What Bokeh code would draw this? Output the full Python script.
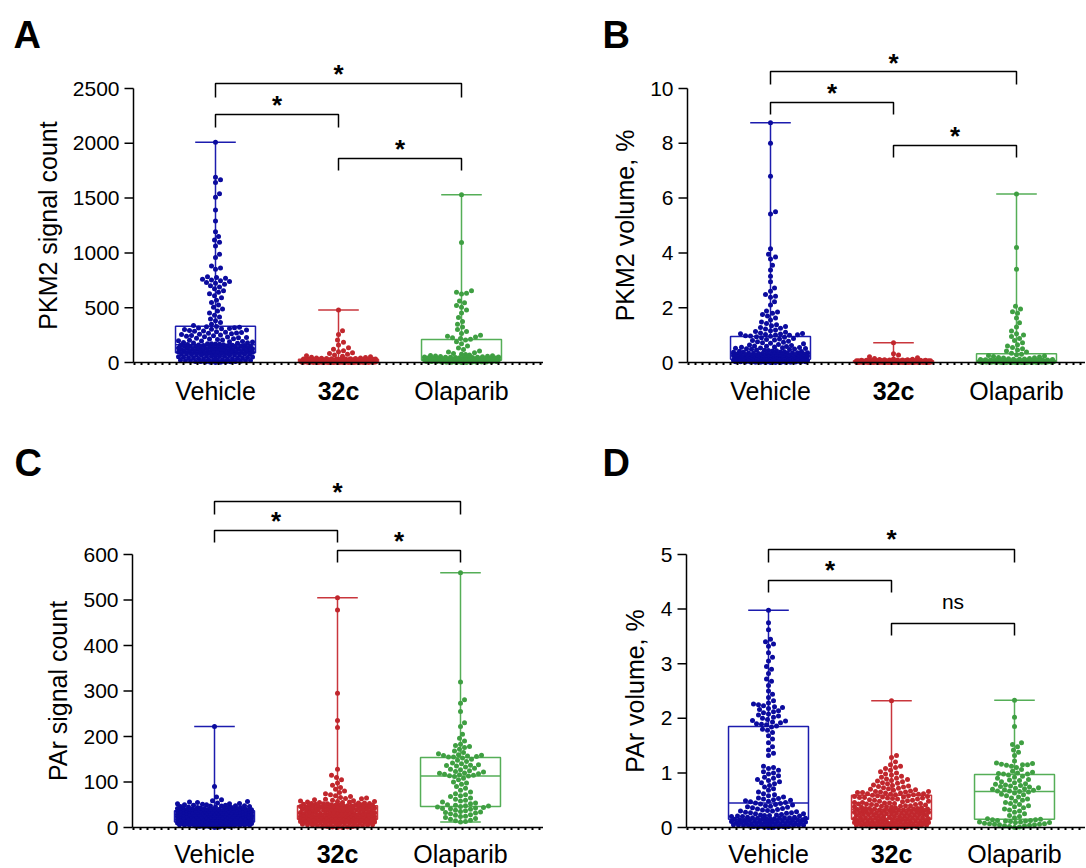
import numpy as np
from bokeh.plotting import figure
from bokeh.models import Range1d, ColumnDataSource
from bokeh.core.properties import value
from bokeh.layouts import row, column
from bokeh.embed import file_html
from bokeh.resources import INLINE

categories = ["Vehicle", "32c", "Olaparib"]

# ---------------- Panel A: PKM2 signal count ----------------
pkm2_count_vehicle = [
    2010, 1690, 1668, 1642, 1540, 1508, 1392, 1290, 1192, 1150, 1118, 1098, 1062, 988, 958, 880, 862, 850,
    782, 775, 768, 760, 752, 745, 738, 730, 722, 715, 700, 688, 672, 655, 640, 628, 610, 590, 568, 548,
    525, 505, 488, 470, 452, 432, 415, 398, 380, 365, 350, 338,
    329, 326, 322, 318, 315, 311, 307, 303, 300, 296, 292, 288, 285, 281, 277, 273, 270, 266, 262, 258,
    255, 251, 247, 243, 240, 236, 232, 228, 225, 221, 217, 214, 210, 206, 203, 199, 196, 192, 189, 186,
    183, 180, 177, 175, 172, 170, 168, 166, 164, 162,
    160, 158, 157, 155, 154, 152, 151, 149, 148, 146, 145, 143, 142, 140, 139, 137, 136, 134, 133, 131,
    130, 128, 127, 125, 124, 122, 121, 119, 118, 116, 115, 113, 112, 110, 109, 107, 106, 104, 103, 101,
    100, 98, 97, 95, 94, 93, 92, 91, 90, 89,
    87, 85, 84, 82, 80, 78, 77, 75, 73, 71, 70, 68, 66, 64, 62, 60, 58, 56, 54, 52, 50, 48, 46, 44, 42,
    40, 38, 36, 34, 32, 30, 28, 26, 24, 22, 20, 18, 17, 15, 13, 12, 10, 9, 8, 6, 5, 4, 3, 2, 0]
pkm2_count_32c = [
    480, 290, 255, 205, 185, 160, 135, 120, 108, 98, 90, 82, 75, 68, 62, 57, 52, 48, 45, 42, 40, 38, 37,
    36, 35, 34, 33, 32, 31, 31,
    30, 29, 29, 28, 28, 27, 27, 26, 26, 25, 25, 24, 24, 23, 23, 22, 22, 21, 21, 20, 20, 19, 19, 18, 18,
    17, 17, 16, 16, 15,
    15, 14, 14, 14, 13, 13, 12, 12, 12, 11, 11, 10, 10, 10, 9, 9, 9, 8, 8, 8, 7, 7, 7, 6, 6, 6, 6, 5, 5, 5,
    4, 4, 4, 4, 4, 3, 3, 3, 3, 3, 3, 2, 2, 2, 2, 2, 2, 1, 1, 1, 1, 1, 1, 1, 0, 0, 0, 0, 0, 0]
pkm2_count_olaparib = [
    1530, 1095, 655, 640, 632, 625, 560, 545, 520, 505, 478, 452, 410, 375, 350, 325, 300, 282, 265, 248,
    240, 232, 225, 218, 212,
    205, 190, 170, 150, 132, 118, 104, 95, 88, 82, 76, 72, 68, 65, 62, 59, 57, 55, 53, 51, 50, 49, 48, 47, 46,
    45, 44, 43, 42, 41, 40, 39, 38, 37, 36, 35, 34, 33, 32, 31, 30, 29, 28, 27, 26, 25, 24, 23, 22, 21,
    20, 19, 18, 17, 16, 15, 14, 13, 12, 11, 10, 9, 8, 7, 6, 5, 5, 4, 3, 3, 2, 2, 1, 1, 0]
pkm2_count_q1 = [88, 5, 20]
pkm2_count_median = [161, 15, 45]
pkm2_count_q3 = [331, 30, 210]
pkm2_count_min = [0, 0, 0]
pkm2_count_max = [2010, 480, 1530]

# ---------------- Panel B: PKM2 volume, % ----------------
pkm2_volume_vehicle = [
    8.75, 8.0, 6.8, 5.5, 5.42, 4.15, 3.95, 3.85, 3.78, 3.55, 3.38, 3.15, 2.95, 2.72, 2.6, 2.48, 2.42, 2.38,
    2.22, 2.1, 1.88, 1.84, 1.8, 1.75, 1.7, 1.62, 1.55, 1.48, 1.42, 1.38, 1.34, 1.31, 1.28, 1.25, 1.22,
    1.19, 1.16, 1.13, 1.1, 1.08, 1.06, 1.05, 1.04, 1.02, 1.01, 1.0, 0.99, 0.98, 0.97, 0.96,
    0.94, 0.92, 0.9, 0.88, 0.86, 0.84, 0.82, 0.8, 0.78, 0.76, 0.74, 0.72, 0.7, 0.68, 0.66, 0.64, 0.62,
    0.6, 0.59, 0.58, 0.57, 0.56, 0.55, 0.54, 0.53, 0.52, 0.51, 0.5, 0.49, 0.48, 0.47, 0.46, 0.45, 0.44,
    0.43, 0.42, 0.41, 0.4, 0.39, 0.38, 0.37, 0.37, 0.36, 0.36, 0.35, 0.35, 0.34, 0.34, 0.33, 0.33,
    0.32, 0.31, 0.31, 0.3, 0.3, 0.29, 0.29, 0.28, 0.28, 0.27, 0.27, 0.26, 0.26, 0.25, 0.25, 0.24, 0.24,
    0.23, 0.23, 0.22, 0.22, 0.21, 0.21, 0.2, 0.2, 0.19, 0.19, 0.18, 0.18, 0.18, 0.17, 0.17, 0.17, 0.16,
    0.16, 0.16, 0.15, 0.15, 0.15, 0.14, 0.14, 0.14, 0.13, 0.13, 0.13, 0.13, 0.12, 0.12, 0.12, 0.12,
    0.11, 0.11, 0.11, 0.11, 0.11, 0.1, 0.1, 0.1, 0.1, 0.1, 0.09, 0.09, 0.09, 0.09, 0.08, 0.08, 0.08, 0.08,
    0.07, 0.07, 0.07, 0.07, 0.06, 0.06, 0.06, 0.06, 0.05, 0.05, 0.05, 0.05, 0.04, 0.04, 0.04, 0.04,
    0.03, 0.03, 0.03, 0.03, 0.02, 0.02, 0.02, 0.02, 0.01, 0.01, 0.01, 0.01, 0.0, 0.0, 0.0, 0.0]
pkm2_volume_32c = [
    0.72, 0.32, 0.27, 0.21, 0.17, 0.15, 0.13, 0.12, 0.11, 0.1, 0.1, 0.09, 0.09, 0.09, 0.08, 0.08, 0.08,
    0.08, 0.07, 0.07, 0.07, 0.07, 0.07, 0.07, 0.065, 0.065, 0.065, 0.06, 0.06, 0.06,
    0.06, 0.058, 0.056, 0.055, 0.054, 0.052, 0.05, 0.05, 0.048, 0.047, 0.046, 0.045, 0.044, 0.043, 0.042,
    0.041, 0.04, 0.04, 0.039, 0.038, 0.037, 0.036, 0.035, 0.035, 0.034, 0.033, 0.032, 0.031, 0.031, 0.03,
    0.03, 0.029, 0.028, 0.028, 0.027, 0.026, 0.025, 0.024, 0.024, 0.023, 0.022, 0.021, 0.02, 0.02, 0.019,
    0.018, 0.018, 0.017, 0.016, 0.015, 0.015, 0.014, 0.013, 0.013, 0.012, 0.012, 0.011, 0.011, 0.01, 0.01,
    0.009, 0.009, 0.009, 0.008, 0.008, 0.008, 0.007, 0.007, 0.007, 0.006, 0.006, 0.006, 0.005, 0.005,
    0.005, 0.004, 0.004, 0.004, 0.003, 0.003, 0.003, 0.002, 0.002, 0.002, 0.001, 0.001, 0.001, 0.0, 0.0, 0.0]
pkm2_volume_olaparib = [
    6.15, 4.2, 3.4, 2.05, 1.95, 1.85, 1.8, 1.62, 1.45, 1.3, 1.15, 1.05, 1.0, 0.95, 0.88, 0.8, 0.72, 0.65,
    0.6, 0.55, 0.5, 0.46, 0.42, 0.38, 0.34,
    0.3, 0.28, 0.26, 0.24, 0.22, 0.2, 0.18, 0.17, 0.16, 0.15, 0.14, 0.13, 0.12, 0.115, 0.11, 0.105, 0.1,
    0.095, 0.09, 0.088, 0.085, 0.082, 0.078, 0.075, 0.072,
    0.07, 0.068, 0.066, 0.064, 0.062, 0.06, 0.058, 0.056, 0.054, 0.052, 0.05, 0.048, 0.046, 0.044, 0.042,
    0.04, 0.038, 0.036, 0.034, 0.032, 0.03, 0.028, 0.026, 0.024, 0.022,
    0.02, 0.019, 0.018, 0.017, 0.016, 0.015, 0.014, 0.013, 0.012, 0.011, 0.01, 0.009, 0.008, 0.007,
    0.006, 0.005, 0.005, 0.004, 0.003, 0.003, 0.002, 0.002, 0.001, 0.001, 0.0]
pkm2_volume_q1 = [0.12, 0.01, 0.02]
pkm2_volume_median = [0.32, 0.03, 0.07]
pkm2_volume_q3 = [0.95, 0.06, 0.32]
pkm2_volume_min = [0, 0, 0]
pkm2_volume_max = [8.75, 0.72, 6.15]

# ---------------- Panel C: PAr signal count ----------------
par_count_vehicle = [
    222, 90, 67, 61, 59, 57, 56, 55, 54, 53, 52, 52, 51, 50, 50, 49, 49, 48, 48, 47, 47, 46, 46, 45, 45,
    44, 44, 44, 43, 43, 42, 42, 42, 41, 41, 41, 40, 40, 40, 40, 39, 39, 39, 39, 38, 38, 38, 38, 38, 37,
    37, 37, 36, 36, 36, 36, 35, 35, 35, 35, 34, 34, 34, 34, 33, 33, 33, 33, 32, 32, 32, 32, 31, 31, 31,
    31, 30, 30, 30, 30, 29, 29, 29, 29, 28, 28, 28, 28, 27, 27, 27, 27, 27, 26, 26, 26, 26, 25, 25, 25,
    25, 24, 24, 24, 24, 23, 23, 23, 23, 22, 22, 22, 22, 21, 21, 21, 21, 20, 20, 20, 20, 19, 19, 19, 19,
    18, 18, 18, 18, 17, 17, 17, 17, 16, 16, 16, 16, 15, 15, 15, 15, 14, 14, 14, 14, 13, 13, 13, 13, 12,
    11, 11, 11, 11, 11, 10, 10, 10, 10, 10, 9, 9, 9, 9, 9, 8, 8, 8, 8, 8, 7, 7, 7, 7, 7, 6, 6, 6, 6,
    5, 5, 5, 5, 4, 4, 4, 3, 3, 3, 2, 2, 1, 0]
par_count_32c = [
    505, 478, 295, 235, 220, 128, 115, 110, 105, 98, 93, 88, 84, 80, 77, 74, 72, 70, 68, 66, 65, 64, 63,
    62, 61, 60, 59, 58, 57, 57, 56, 56, 55, 55, 54, 54, 53, 53, 52, 52, 51, 51, 50, 50, 50, 49, 49, 49,
    48, 48,
    48, 47, 47, 47, 46, 46, 46, 45, 45, 45, 44, 44, 44, 43, 43, 43, 42, 42, 42, 41, 41, 41, 40, 40, 40,
    39, 39, 39, 38, 38, 37, 37, 37, 36, 36, 35, 35, 35, 34, 34, 33, 33, 33, 32, 32, 31, 31, 31, 30, 30,
    30, 29, 29, 29, 28, 28, 28, 27, 27, 27, 26, 26, 26, 25, 25, 25, 25, 24, 24, 24, 24, 23, 23, 23, 23,
    22, 22, 22, 22, 22, 21, 21, 21, 21, 21, 20, 20, 20, 20, 20, 20, 19, 19, 19, 19, 19, 18, 18, 18, 18,
    17, 17, 17, 17, 16, 16, 16, 16, 15, 15, 15, 15, 14, 14, 14, 14, 13, 13, 13, 12, 12, 12, 11, 11, 11,
    10, 10, 10, 9, 9, 9, 8, 8, 8, 7, 7, 6, 6, 5, 5, 4, 4, 3, 3, 2, 2, 1, 1, 0, 0]
par_count_olaparib = [
    560, 320, 281, 273, 255, 230, 222, 205, 196, 190, 183, 180, 178, 176, 172, 168, 165, 162, 160, 159,
    158, 157, 156, 155, 155,
    153, 150, 148, 145, 142, 140, 138, 137, 136, 135, 133, 130, 128, 127, 125, 123, 122, 120, 119, 118,
    117, 116, 115, 114, 113,
    112, 108, 105, 100, 98, 95, 90, 86, 82, 78, 74, 72, 70, 68, 65, 62, 60, 58, 56, 54, 52, 50, 49, 48, 47,
    46, 45, 44, 43, 42, 41, 40, 38, 37, 35, 34, 33, 32, 30, 28, 27, 25, 24, 22, 20, 18, 16, 15, 13, 12]
par_count_q1 = [12, 18, 46]
par_count_median = [25, 30, 113]
par_count_q3 = [37, 48, 154]
par_count_min = [0, 0, 12]
par_count_max = [222, 505, 560]

# ---------------- Panel D: PAr volume, % ----------------
par_volume_vehicle = [
    3.98, 3.75, 3.62, 3.45, 3.4, 3.36, 3.32, 3.2, 3.12, 3.05, 2.95, 2.9, 2.82, 2.72, 2.68, 2.6, 2.5, 2.44,
    2.38, 2.32, 2.28, 2.26, 2.25, 2.23, 2.21, 2.2, 2.18, 2.16, 2.14, 2.12, 2.1, 2.08, 2.06, 2.04, 2.02,
    2.0, 1.98, 1.96, 1.95, 1.93, 1.92, 1.9, 1.89, 1.88, 1.86,
    1.84, 1.8, 1.78, 1.74, 1.68, 1.62, 1.55, 1.48, 1.42, 1.36, 1.32, 1.12, 1.1, 1.08, 1.05, 1.02, 1.0,
    0.98, 0.95, 0.92, 0.9, 0.88, 0.86, 0.84, 0.82, 0.8, 0.77, 0.74, 0.71, 0.68, 0.65, 0.62, 0.6, 0.58,
    0.56, 0.54, 0.53, 0.52, 0.51, 0.5, 0.49, 0.48, 0.47, 0.46, 0.45,
    0.44, 0.43, 0.42, 0.41, 0.4, 0.39, 0.38, 0.37, 0.36, 0.35, 0.34, 0.33, 0.32, 0.31, 0.3, 0.3, 0.29,
    0.28, 0.27, 0.27, 0.26, 0.25, 0.25, 0.24, 0.23, 0.23, 0.22, 0.22, 0.21, 0.21, 0.2, 0.2, 0.19, 0.19,
    0.18, 0.18, 0.18, 0.17, 0.17, 0.17, 0.16, 0.16, 0.16, 0.15, 0.15,
    0.14, 0.14, 0.14, 0.13, 0.13, 0.13, 0.12, 0.12, 0.12, 0.11, 0.11, 0.11, 0.1, 0.1, 0.1, 0.1, 0.09,
    0.09, 0.09, 0.08, 0.08, 0.08, 0.07, 0.07, 0.07, 0.06, 0.06, 0.06, 0.05, 0.05, 0.05, 0.04, 0.04, 0.04,
    0.03, 0.03, 0.03, 0.02, 0.02, 0.02, 0.01, 0.01, 0.01, 0.0, 0.0]
par_volume_32c = [
    2.32, 1.32, 1.28, 1.2, 1.15, 1.12, 1.1, 1.08, 1.05, 1.02, 1.0, 0.98, 0.96, 0.94, 0.92, 0.9, 0.89, 0.88,
    0.86, 0.85, 0.84, 0.82, 0.81, 0.8, 0.78, 0.77, 0.76, 0.75, 0.74, 0.73, 0.72, 0.71, 0.7, 0.69, 0.68,
    0.67, 0.66, 0.66, 0.65, 0.65, 0.64, 0.64, 0.63, 0.63, 0.62, 0.62, 0.61, 0.61, 0.6, 0.6,
    0.59, 0.58, 0.58, 0.57, 0.57, 0.56, 0.56, 0.55, 0.55, 0.54, 0.54, 0.53, 0.52, 0.52, 0.51, 0.5, 0.5,
    0.49, 0.48, 0.48, 0.47, 0.46, 0.46, 0.45, 0.45, 0.44, 0.44, 0.43, 0.43, 0.42, 0.42, 0.41, 0.41, 0.4,
    0.4, 0.39, 0.39, 0.38, 0.38, 0.37, 0.37, 0.36, 0.36, 0.35, 0.35, 0.35, 0.34, 0.34, 0.34, 0.33,
    0.33, 0.32, 0.32, 0.32, 0.31, 0.31, 0.31, 0.3, 0.3, 0.3, 0.29, 0.29, 0.29, 0.28, 0.28, 0.28, 0.27,
    0.27, 0.27, 0.26, 0.26, 0.26, 0.25, 0.25, 0.25, 0.24, 0.24, 0.24, 0.23, 0.23, 0.22, 0.22, 0.22, 0.21,
    0.21, 0.2, 0.2, 0.2, 0.19, 0.19, 0.18, 0.18, 0.18, 0.17, 0.17, 0.17, 0.16, 0.16, 0.16, 0.15,
    0.15, 0.14, 0.14, 0.14, 0.13, 0.13, 0.13, 0.12, 0.12, 0.12, 0.11, 0.11, 0.11, 0.1, 0.1, 0.1, 0.09,
    0.09, 0.09, 0.09, 0.08, 0.08, 0.08, 0.07, 0.07, 0.07, 0.06, 0.06, 0.06, 0.06, 0.05, 0.05, 0.05, 0.04,
    0.04, 0.04, 0.04, 0.03, 0.03, 0.03, 0.02, 0.02, 0.02, 0.02, 0.01, 0.01, 0.01, 0.0, 0.0, 0.0]
par_volume_olaparib = [
    2.33, 2.02, 1.85, 1.55, 1.52, 1.48, 1.42, 1.38, 1.32, 1.22, 1.18, 1.17, 1.16, 1.15, 1.15, 1.14, 1.12,
    1.1, 1.06, 1.03, 1.01, 1.0, 0.99, 0.98, 0.98,
    0.96, 0.94, 0.92, 0.9, 0.88, 0.87, 0.86, 0.84, 0.82, 0.8, 0.79, 0.78, 0.77, 0.76, 0.75, 0.74, 0.73,
    0.72, 0.71, 0.7, 0.69, 0.68, 0.67, 0.67, 0.66,
    0.65, 0.63, 0.61, 0.6, 0.58, 0.56, 0.54, 0.52, 0.5, 0.48, 0.46, 0.44, 0.42, 0.4, 0.38, 0.36, 0.34,
    0.32, 0.3, 0.28, 0.25, 0.22, 0.2, 0.18, 0.16,
    0.15, 0.14, 0.14, 0.13, 0.13, 0.12, 0.12, 0.11, 0.1, 0.1, 0.09, 0.09, 0.08, 0.07, 0.07, 0.06, 0.06,
    0.05, 0.05, 0.04, 0.03, 0.03, 0.02, 0.01, 0.0]
par_volume_q1 = [0.15, 0.15, 0.15]
par_volume_median = [0.45, 0.33, 0.66]
par_volume_q3 = [1.85, 0.59, 0.97]
par_volume_min = [0, 0, 0]
par_volume_max = [3.98, 2.32, 2.33]

# ---------------- styling / layout ----------------
FONT = "Liberation Sans"
POINT_COLORS = ["#0b0b9e", "#c1272d", "#3f9f42"]
LINE_COLORS = ["#1c1cae", "#c9363c", "#55ae57"]
PX_PER_CAT = 123.0
BOX_HALF = 0.325
CAP_HALF = 0.165
DOT = 5.0


def beeswarm(vals, ky, d=DOT, maxhalf=37.0, step=1.0):
    """Horizontal offsets (px) for a simple beeswarm layout."""
    ys = np.asarray(vals, dtype=float) * ky
    order = np.argsort(ys, kind="stable")
    cand = [0.0]
    k = 1
    while k * step <= maxhalf:
        cand += [k * step, -k * step]
        k += 1
    cand = np.array(cand)
    offs = np.zeros(len(ys))
    px, py = [], []
    for i in order:
        y = ys[i]
        x = 0.0
        if px:
            PX = np.array(px)
            PY = np.array(py)
            near = np.abs(PY - y) < d
            if near.any():
                dx = cand[:, None] - PX[near][None, :]
                dy = (PY[near] - y)[None, :]
                dist = np.sqrt(dx * dx + dy * dy).min(axis=1)
                ok = np.where(dist >= d)[0]
                j = ok[0] if len(ok) else int(np.argmax(dist))
                x = cand[j]
        offs[i] = x
        px.append(x)
        py.append(y)
    return offs


def txt(p, x, y, s, size, align="center", bold=False, angle=0.0):
    p.text(x=[x], y=[y], text=[s], angle=angle, text_align=align, text_baseline="middle",
           text_font=value(FONT), text_font_size=value(size),
           text_font_style="bold" if bold else "normal", text_color="black")


def make_panel(letter, ylabel, ymax, ystep, series, q1, med, q3, lo, hi, brackets,
               fig_left, fig_top, W, H, axis_px, zero_px, top_px, veh_px,
               label_mid, letter_left, letter_mid, title_x):
    ky = (zero_px - top_px) / ymax
    kx = PX_PER_CAT

    def ys(screen):
        return (zero_px - screen) / ky

    def xs(screen):
        return 1 + (screen - veh_px) / kx

    p = figure(width=W, height=H,
               x_range=Range1d(xs(fig_left), xs(fig_left + W)),
               y_range=Range1d(ys(fig_top + H), ys(fig_top)),
               x_axis_type=None, y_axis_type=None,
               output_backend="svg", toolbar_location=None, title=None,
               min_border_left=0, min_border_right=0, min_border_top=0, min_border_bottom=0)
    p.outline_line_color = None
    p.xgrid.grid_line_color = None
    p.ygrid.grid_line_color = None
    p.background_fill_color = "white"
    p.border_fill_color = "white"

    cx = [1, 2, 3]
    box = ColumnDataSource(dict(
        x=cx, left=[c - BOX_HALF for c in cx], right=[c + BOX_HALF for c in cx],
        cl=[c - CAP_HALF for c in cx], cr=[c + CAP_HALF for c in cx],
        q1=q1, med=med, q3=q3, lo=lo, hi=hi, color=LINE_COLORS))
    p.segment(x0="x", x1="x", y0="q3", y1="hi", source=box, line_color="color", line_width=1.5)
    p.segment(x0="x", x1="x", y0="q1", y1="lo", source=box, line_color="color", line_width=1.5)
    p.segment(x0="cl", x1="cr", y0="hi", y1="hi", source=box, line_color="color", line_width=1.5)
    p.segment(x0="cl", x1="cr", y0="lo", y1="lo", source=box, line_color="color", line_width=1.5)
    p.quad(left="left", right="right", bottom="q1", top="q3", source=box,
           fill_color=None, line_color="color", line_width=1.5)
    p.segment(x0="left", x1="right", y0="med", y1="med", source=box, line_color="color", line_width=1.5)

    for i, vals in enumerate(series):
        offs = beeswarm(vals, ky)
        src = ColumnDataSource(dict(x=(i + 1) + offs / kx, y=vals))
        p.scatter(x="x", y="y", source=src, size=DOT, fill_color=POINT_COLORS[i], line_color=None)

    # y axis drawn by hand
    xa = xs(axis_px)
    ticks = list(np.arange(0, ymax + ystep / 2, ystep))
    p.segment(x0=[xa], x1=[xa], y0=[0], y1=[ymax], line_color="black", line_width=1.5)
    p.segment(x0=[xs(axis_px - 9)] * len(ticks), x1=[xa] * len(ticks), y0=ticks, y1=ticks,
              line_color="black", line_width=1.5)
    p.text(x=[xs(axis_px - 14)] * len(ticks), y=ticks, text=[str(int(t)) for t in ticks],
           text_align="right", text_baseline="middle", text_font=value(FONT),
           text_font_size=value("21px"), text_color="black")
    txt(p, xs(title_x), ymax / 2, ylabel, "25px", angle=np.pi / 2)

    # x axis: solid line plus small dotted ticks
    xe = xs(fig_left + W)
    p.segment(x0=[xa], x1=[xe], y0=[0], y1=[0], line_color="black", line_width=1.5)
    p.segment(x0=[xa], x1=[xe], y0=[ys(zero_px + 1.5)], y1=[ys(zero_px + 1.5)],
              line_color="black", line_width=2, line_dash="2 5")

    # significance brackets
    for (a, b, bar_px, leg_px, txt_px, mark) in brackets:
        xa_, xb_ = cx[a], cx[b]
        p.line(x=[xa_, xa_, xb_, xb_], y=[ys(leg_px), ys(bar_px), ys(bar_px), ys(leg_px)],
               line_color="black", line_width=1.5)
        if mark == "*":
            txt(p, (xa_ + xb_) / 2, ys(txt_px + 5), "*", "26px", bold=True)
        else:
            txt(p, (xa_ + xb_) / 2, ys(txt_px - 2), mark, "21px")

    # category labels
    for i, name in enumerate(categories):
        txt(p, cx[i], ys(label_mid), name, "25px", bold=(name == "32c"))

    # panel letter
    txt(p, xs(letter_left), ys(letter_mid), letter, "38px", align="left", bold=True)
    return p


pA = make_panel("A", "PKM2 signal count", 2500, 500,
                [pkm2_count_vehicle, pkm2_count_32c, pkm2_count_olaparib],
                pkm2_count_q1, pkm2_count_median, pkm2_count_q3, pkm2_count_min, pkm2_count_max,
                [(0, 2, 83, 97, 68, "*"), (0, 1, 114, 127, 99, "*"), (1, 2, 158, 170, 143, "*")],
                fig_left=0, fig_top=0, W=543, H=434, axis_px=133,
                zero_px=362, top_px=88, veh_px=215, label_mid=390, letter_left=13, letter_mid=34,
                title_x=47)

pB = make_panel("B", "PKM2 volume, %", 10, 2,
                [pkm2_volume_vehicle, pkm2_volume_32c, pkm2_volume_olaparib],
                pkm2_volume_q1, pkm2_volume_median, pkm2_volume_q3, pkm2_volume_min, pkm2_volume_max,
                [(0, 2, 71, 84, 57, "*"), (0, 1, 102, 114, 87, "*"), (1, 2, 145, 157, 130, "*")],
                fig_left=543, fig_top=0, W=542, H=434, axis_px=687,
                zero_px=362, top_px=88, veh_px=770, label_mid=390, letter_left=602, letter_mid=34,
                title_x=624)

pC = make_panel("C", "PAr signal count", 600, 100,
                [par_count_vehicle, par_count_32c, par_count_olaparib],
                par_count_q1, par_count_median, par_count_q3, par_count_min, par_count_max,
                [(0, 2, 501, 514, 486, "*"), (0, 1, 530, 542, 515, "*"), (1, 2, 550, 562, 535, "*")],
                fig_left=0, fig_top=434, W=543, H=433, axis_px=132,
                zero_px=827, top_px=554, veh_px=214, label_mid=853, letter_left=14, letter_mid=462,
                title_x=57)

pD = make_panel("D", "PAr volume, %", 5, 1,
                [par_volume_vehicle, par_volume_32c, par_volume_olaparib],
                par_volume_q1, par_volume_median, par_volume_q3, par_volume_min, par_volume_max,
                [(0, 2, 549, 562, 533, "*"), (0, 1, 580, 592, 564, "*"), (1, 2, 623, 635, 603, "ns")],
                fig_left=543, fig_top=434, W=542, H=433, axis_px=686,
                zero_px=827, top_px=554, veh_px=768, label_mid=853, letter_left=602, letter_mid=462,
                title_x=634)

layout = column(row(pA, pB), row(pC, pD))
open("out.html", "w").write(file_html(layout, INLINE))
